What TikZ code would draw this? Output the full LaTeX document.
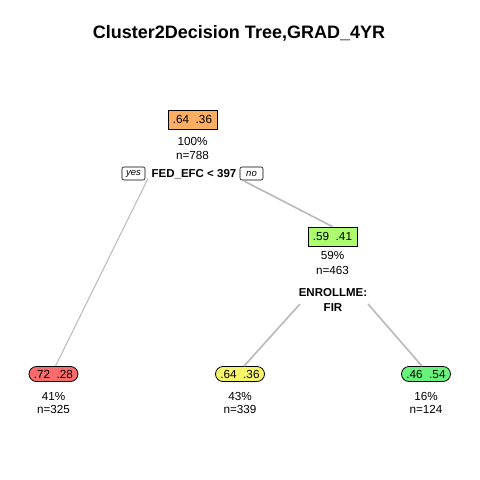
\documentclass[tikz,border=0pt]{standalone}
\usepackage{fontspec}
\setmainfont{Liberation Sans}
\usetikzlibrary{shapes.misc}
\definecolor{cOrange}{RGB}{252,174,100}
\definecolor{cLgreen}{RGB}{172,252,110}
\definecolor{cRed}{RGB}{248,108,108}
\definecolor{cYellow}{RGB}{246,246,104}
\definecolor{cGreen}{RGB}{104,242,124}
\definecolor{cBranch}{RGB}{185,185,185}
\begin{document}
\begin{tikzpicture}[x=1pt,y=-1pt,
  every node/.style={font=\fontsize{11.7}{12}\selectfont, inner sep=0pt},
  splitbox/.style={draw=black, line width=0.8pt, minimum width=49pt, minimum height=19pt},
  leafbox/.style={rounded rectangle, draw=black, line width=0.8pt, minimum width=49pt, minimum height=15pt},
  info/.style={align=center},
  splitlbl/.style={font=\bfseries\fontsize{11.5}{15}\selectfont, align=center},
  yn/.style={draw=black, rounded corners=2pt, line width=0.6pt, font=\itshape\fontsize{9.5}{10}\selectfont, minimum width=23pt, minimum height=13pt},
  branch/.style={draw=cBranch, line width=1.6pt},
  thinbranch/.style={draw=cBranch, line width=1pt}
]
\useasboundingbox (0,0) rectangle (480,480);
\fill[white] (0,0) rectangle (480,480);

\node[font=\bfseries\fontsize{18}{20}\selectfont] (title) at (239,33) {Cluster2Decision Tree,GRAD\_4YR};

% root
\node[splitbox, fill=cOrange] (root) at (192.5,119.5) {.64\ \ .36};
\node (r1) at (192.5,141) {100\%};
\node (r2) at (192.5,155.5) {n=788};
\node[splitlbl] (rs) at (194,174) {FED\_EFC < 397};
\node[yn] (yes) at (133.5,173.5) {yes};
\node[yn] (no) at (251.5,173.5) {no};

% right internal node
\node[splitbox, fill=cLgreen] (rn) at (332.5,236.5) {.59\ \ .41};
\node (n1) at (332.5,255.5) {59\%};
\node (n2) at (332.5,270.5) {n=463};
\node[splitlbl] (ns) at (333,299.5) {ENROLLME:\\FIR};

% leaves
\node[leafbox, fill=cRed] (l1) at (53.5,374) {.72\ \ .28};
\node (l1a) at (53.5,396) {41\%};
\node (l1b) at (53.5,409) {n=325};

\node[leafbox, fill=cYellow] (l2) at (240,374) {.64\ \ .36};
\node (l2a) at (240,396) {43\%};
\node (l2b) at (240,409) {n=339};

\node[leafbox, fill=cGreen] (l3) at (426,374) {.46\ \ .54};
\node (l3a) at (426,396) {16\%};
\node (l3b) at (426,409) {n=124};

% branches
\coordinate (ra) at (148,178.5);
\coordinate (rb) at (244,181);
\coordinate (na) at (300,304);
\coordinate (nb) at (368,304);
\draw[thinbranch] (ra) -- ([xshift=2pt]l1.north);
\draw[branch] (rb) -- (rn.north);
\draw[branch] (na) -- ([xshift=4pt]l2.north);
\draw[branch] (nb) -- ([xshift=-4pt]l3.north);
\end{tikzpicture}
\end{document}
